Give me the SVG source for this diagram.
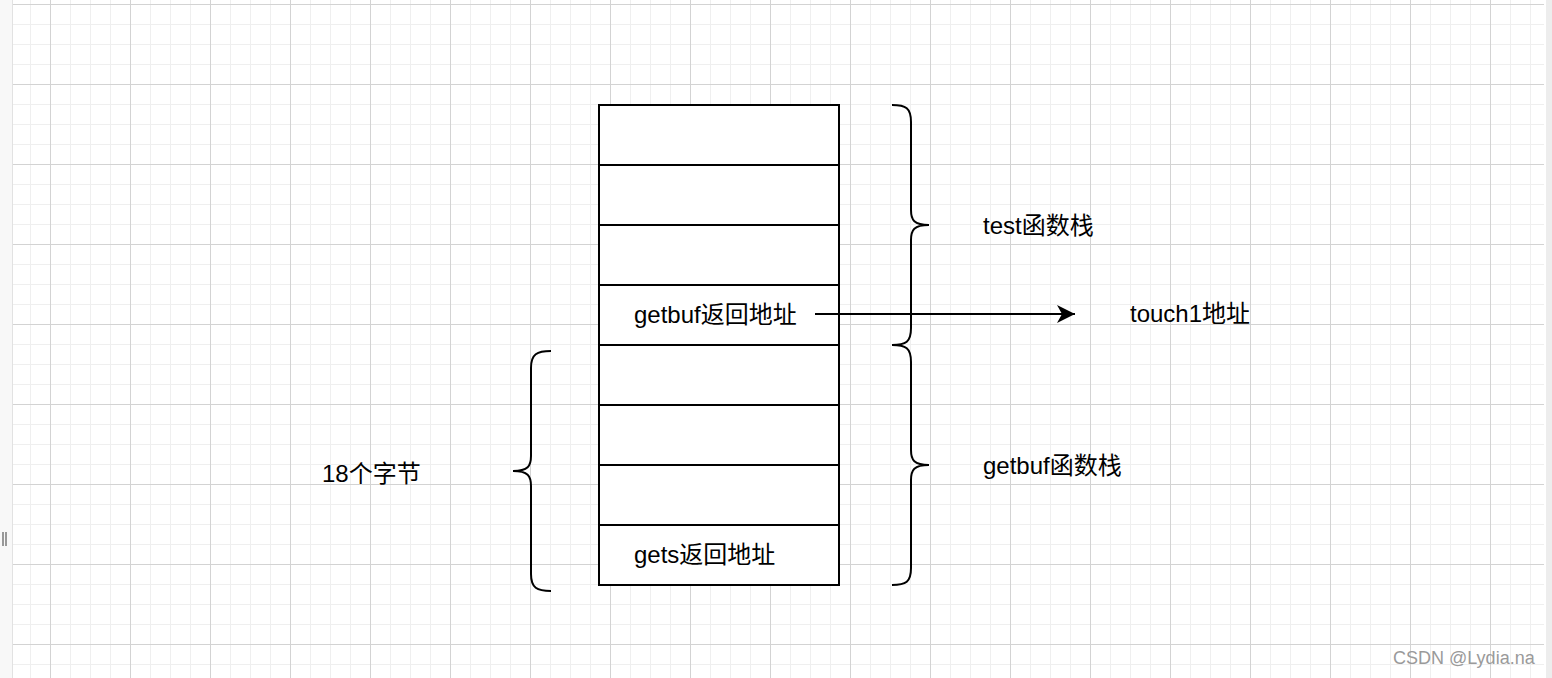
<svg xmlns="http://www.w3.org/2000/svg" width="1552" height="678" viewBox="0 0 1552 678">
  <defs>
    <pattern id="grid" patternUnits="userSpaceOnUse" x="50" y="4" width="80" height="80">
      <rect x="0" y="0" width="80" height="80" fill="#ffffff"/>
      <rect x="20" y="0" width="1" height="80" fill="#efefef"/>
      <rect x="40" y="0" width="1" height="80" fill="#efefef"/>
      <rect x="60" y="0" width="1" height="80" fill="#efefef"/>
      <rect x="0" y="20" width="80" height="1" fill="#efefef"/>
      <rect x="0" y="40" width="80" height="1" fill="#efefef"/>
      <rect x="0" y="60" width="80" height="1" fill="#efefef"/>
      <rect x="0" y="0" width="1" height="80" fill="#d3d3d3"/>
      <rect x="0" y="0" width="80" height="1" fill="#d3d3d3"/>
    </pattern>
    <marker id="arrow" markerUnits="userSpaceOnUse" markerWidth="20" markerHeight="20" refX="18" refY="9" orient="auto" viewBox="0 0 20 18">
      <path d="M18,9 L0,0 L5,9 L0,18 Z" fill="#000"/>
    </marker>
  </defs>
  <style>
    .lbl { font-family: "Liberation Sans", "Noto Sans CJK SC", sans-serif; font-size: 24px; fill: #000; }
    .cell { fill: #fff; stroke: #000; stroke-width: 2; }
    .brace { fill: none; stroke: #000; stroke-width: 2; }
    .wm { font-family: "Liberation Sans", "Noto Sans CJK SC", sans-serif; font-size: 18px; fill: #9a9a9a; }
  </style>

  <!-- background / canvas -->
  <rect x="0" y="0" width="1552" height="678" fill="#ffffff"/>
  <rect x="13" y="0" width="1531" height="678" fill="url(#grid)"/>
  <rect x="0" y="0" width="12" height="678" fill="#f8f8f8"/>
  <rect x="12" y="0" width="1" height="678" fill="#e2e2e2"/>
  <rect x="1546" y="0" width="6" height="678" fill="#ededed"/>
  <rect x="2" y="532" width="2" height="14" fill="#999"/>
  <rect x="5" y="532" width="2" height="14" fill="#999"/>

  <!-- stack -->
  <g id="stack">
    <rect class="cell" x="599" y="105" width="240" height="60"/>
    <rect class="cell" x="599" y="165" width="240" height="60"/>
    <rect class="cell" x="599" y="225" width="240" height="60"/>
    <rect class="cell" x="599" y="285" width="240" height="60"/>
    <rect class="cell" x="599" y="345" width="240" height="60"/>
    <rect class="cell" x="599" y="405" width="240" height="60"/>
    <rect class="cell" x="599" y="465" width="240" height="60"/>
    <rect class="cell" x="599" y="525" width="240" height="60"/>
  </g>
  <g id="getbuf-ret">
    <text class="lbl" x="634" y="323">getbuf返回地址</text>
  </g>
  <g id="gets-ret">
    <text class="lbl" x="634" y="563">gets返回地址</text>
  </g>

  <!-- braces -->
  <g id="brace-test">
    <path class="brace" d="M892,105 C906,105 911,108 911,122 L911,210 C911,220 914,225 929,225 C914,225 911,230 911,240 L911,328 C911,342 906,345 892,345"/>
  </g>
  <g id="brace-getbuf">
    <path class="brace" d="M892,345 C906,345 911,348 911,362 L911,450 C911,460 914,465 929,465 C914,465 911,470 911,480 L911,568 C911,582 906,585 892,585"/>
  </g>
  <g id="brace-18">
    <path class="brace" d="M551,351 C537,351 531,354 531,368 L531,456 C531,466 528,471 513,471 C528,471 531,476 531,486 L531,574 C531,588 537,591 551,591"/>
  </g>

  <!-- labels -->
  <g id="test-label">
    <text class="lbl" x="983" y="234">test函数栈</text>
  </g>
  <g id="getbuf-label">
    <text class="lbl" x="983" y="474">getbuf函数栈</text>
  </g>
  <g id="bytes-label">
    <text class="lbl" x="322" y="482">18个字节</text>
  </g>
  <g id="touch1">
    <text class="lbl" x="1130" y="322">touch1地址</text>
  </g>

  <!-- connectors -->
  <g id="connectors">
    <line x1="815" y1="314" x2="1075" y2="314" stroke="#000" stroke-width="2" marker-end="url(#arrow)"/>
  </g>

  <text class="wm" x="1393" y="664">CSDN @Lydia.na</text>
</svg>
